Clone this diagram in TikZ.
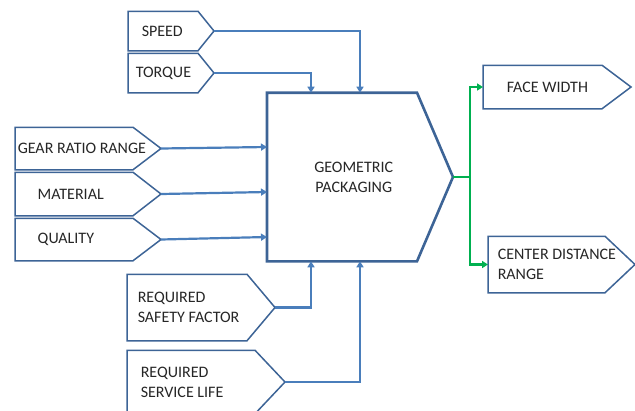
\documentclass[tikz,border=0pt]{standalone}
\usepackage{fontspec}
\setmainfont{Carlito}
\usetikzlibrary{arrows.meta}
\definecolor{sigline}{HTML}{3D6496}
\definecolor{flowline}{HTML}{4A7EBB}
\definecolor{outgreen}{HTML}{00B050}
\newcommand{\sigfont}{\fontsize{16}{20}\selectfont}
\tikzset{
  sigbox/.style 2 args={rectangle, anchor=west, inner ysep=0pt, font=\sigfont, text=black!85, align=left,
    append after command={(\tikzlastnode.north west) -- ([xshift=#1]\tikzlastnode.north west)
      -- ([xshift=#2]\tikzlastnode.west) -- ([xshift=#1]\tikzlastnode.south west)
      -- (\tikzlastnode.south west) -- cycle}},
  boxline/.style={draw=sigline, line width=1.5pt},
  flow/.style={draw=flowline, line width=2.2pt, -{Triangle[length=6pt,width=7pt]}},
  outflow/.style={flow, draw=outgreen}
}
\begin{document}
\begin{tikzpicture}[x=1pt, y=-1pt]
  \useasboundingbox (0,0) rectangle (635,410);

  \draw[boxline] (128,31) node[sigbox={70}{86}, minimum height=38pt, inner xsep=13pt] (speed) {SPEED};
  \draw[boxline] (128,73) node[sigbox={70}{86}, minimum height=38pt, inner xsep=7pt] (torque) {TORQUE};
  \draw[boxline] (15,148.5) node[sigbox={118}{146}, minimum height=41pt, inner xsep=2pt] (gear) {GEAR RATIO RANGE};
  \draw[boxline] (15,194) node[sigbox={118}{146}, minimum height=42pt, inner xsep=22pt] (material) {MATERIAL};
  \draw[boxline] (15,239.5) node[sigbox={118}{146}, minimum height=41pt, inner xsep=22pt] (quality) {QUALITY};
  \draw[boxline] (127,307.5) node[sigbox={120}{148}, minimum height=65pt, inner xsep=10pt] (safety) {REQUIRED\\SAFETY FACTOR};
  \draw[boxline] (127,382) node[sigbox={128}{158}, minimum height=62pt, inner xsep=13pt] (service) {REQUIRED\\SERVICE LIFE};
  \draw[boxline, line width=2.6pt] (267,177) node[sigbox={150}{186}, minimum height=166pt, inner xsep=46pt, align=center] (main) {GEOMETRIC\\PACKAGING};
  \draw[boxline] (483,87) node[sigbox={119}{148}, minimum height=42pt, inner xsep=23pt] (face) {FACE WIDTH};
  \draw[boxline] (488,264.5) node[sigbox={117}{147}, minimum height=55pt, inner xsep=9pt] (center) {CENTER DISTANCE\\RANGE};

  \draw[flow] ([xshift=86pt]speed.west) -| ([xshift=93pt]main.north west);
  \draw[flow] ([xshift=86pt]torque.west) -| ([xshift=44pt]main.north west);
  \draw[flow] ([xshift=146pt]gear.west) -- ([yshift=30pt]main.west);
  \draw[flow] ([xshift=146pt]material.west) -- ([yshift=-15pt]main.west);
  \draw[flow] ([xshift=146pt]quality.west) -- ([yshift=-60pt]main.west);
  \draw[flow] ([xshift=148pt]safety.west) -| ([xshift=44pt]main.south west);
  \draw[flow] ([xshift=158pt]service.west) -| ([xshift=93pt]main.south west);

  \draw[outflow, -] ([xshift=186pt]main.west) -- ++(17,0) coordinate (split);
  \draw[outflow] (split) |- (face.west);
  \draw[outflow] (split) |- (center.west);
\end{tikzpicture}
\end{document}
